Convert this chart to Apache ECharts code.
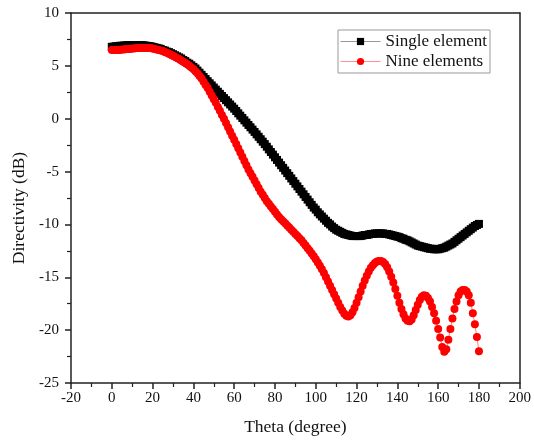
<!DOCTYPE html>
<html>
<head>
<meta charset="utf-8">
<script src="https://cdn.jsdelivr.net/npm/echarts@6/dist/echarts.min.js"></script>
<style>
  html, body { margin: 0; padding: 0; background: #fff; }
  #chart { width: 534px; height: 441px; }
</style>
</head>
<body>
<div id="chart"></div>
<script>
// theta sampling, one point per degree (0 .. 180)
var theta = []
for (var t = 0; t <= 180; t++) theta.push(t)

var seriesNames = ['Single element', 'Nine elements']

// directivity (dB)
var singleElement = [
    6.8, 6.82, 6.85, 6.87, 6.9, 6.9, 6.92, 6.93, 6.95, 6.95,
    6.95, 6.97, 6.97, 6.97, 6.95, 6.95, 6.93, 6.9, 6.88, 6.85,
    6.8, 6.75, 6.7, 6.65, 6.6, 6.5, 6.45, 6.35, 6.3, 6.2,
    6.1, 6.0, 5.9, 5.8, 5.7, 5.55, 5.45, 5.3, 5.2, 5.05,
    4.9, 4.75, 4.55, 4.35, 4.15, 3.95, 3.75, 3.55, 3.35, 3.15,
    2.95, 2.75, 2.55, 2.35, 2.15, 1.95, 1.75, 1.55, 1.35, 1.15,
    0.95, 0.73, 0.51, 0.29, 0.07, -0.15, -0.37, -0.59, -0.81, -1.03,
    -1.25, -1.48, -1.71, -1.94, -2.17, -2.4, -2.65, -2.9, -3.15, -3.4,
    -3.65, -3.9, -4.15, -4.4, -4.65, -4.9, -5.15, -5.4, -5.65, -5.9,
    -6.15, -6.4, -6.65, -6.9, -7.15, -7.4, -7.65, -7.9, -8.15, -8.4,
    -8.6, -8.85, -9.05, -9.25, -9.45, -9.65, -9.85, -10.0, -10.2, -10.35,
    -10.5, -10.6, -10.7, -10.8, -10.9, -10.95, -11.0, -11.05, -11.1, -11.1,
    -11.1, -11.1, -11.1, -11.05, -11.0, -11.0, -10.95, -10.9, -10.9, -10.85,
    -10.85, -10.85, -10.85, -10.85, -10.9, -10.9, -10.95, -11.0, -11.05, -11.1,
    -11.15, -11.2, -11.3, -11.35, -11.45, -11.5, -11.6, -11.7, -11.8, -11.9,
    -12.0, -12.05, -12.1, -12.15, -12.2, -12.25, -12.3, -12.3, -12.35, -12.35,
    -12.35, -12.3, -12.25, -12.2, -12.1, -12.0, -11.9, -11.8, -11.65, -11.5,
    -11.35, -11.2, -11.05, -10.9, -10.75, -10.6, -10.45, -10.3, -10.15, -10.05,
    -9.95
]

var nineElements = [
    6.5, 6.5, 6.5, 6.5, 6.5, 6.55, 6.55, 6.6, 6.6, 6.6,
    6.65, 6.65, 6.7, 6.7, 6.7, 6.7, 6.7, 6.7, 6.7, 6.68,
    6.65, 6.6, 6.55, 6.5, 6.45, 6.4, 6.3, 6.25, 6.15, 6.05,
    5.95, 5.85, 5.75, 5.65, 5.5, 5.4, 5.3, 5.15, 5.0, 4.85,
    4.7, 4.5, 4.3, 4.05, 3.8, 3.5, 3.2, 2.9, 2.55, 2.2,
    1.85, 1.5, 1.1, 0.75, 0.35, 0.0, -0.4, -0.8, -1.2, -1.6,
    -2.0, -2.4, -2.8, -3.2, -3.6, -4.0, -4.4, -4.8, -5.15, -5.5,
    -5.85, -6.2, -6.55, -6.9, -7.2, -7.5, -7.8, -8.05, -8.3, -8.55,
    -8.8, -9.05, -9.3, -9.5, -9.7, -9.9, -10.1, -10.3, -10.5, -10.7,
    -10.9, -11.1, -11.3, -11.5, -11.75, -12.0, -12.25, -12.5, -12.75, -13.0,
    -13.3, -13.6, -13.9, -14.25, -14.6, -15.0, -15.4, -15.8, -16.2, -16.6,
    -17.0, -17.4, -17.8, -18.15, -18.45, -18.65, -18.7, -18.6, -18.3, -17.9,
    -17.4, -16.9, -16.35, -15.8, -15.3, -14.85, -14.45, -14.1, -13.85, -13.65,
    -13.5, -13.45, -13.45, -13.55, -13.75, -14.05, -14.45, -14.95, -15.5, -16.1,
    -16.75, -17.4, -18.0, -18.5, -18.9, -19.1, -19.15, -19.0, -18.6, -18.1,
    -17.6, -17.15, -16.85, -16.7, -16.75, -16.95, -17.3, -17.8, -18.4, -19.1,
    -19.9, -20.7, -21.6, -22.05, -21.8, -20.9, -19.9, -18.9, -18.0, -17.3,
    -16.7, -16.35, -16.2, -16.2, -16.35, -16.7, -17.4, -18.4, -19.45, -20.65,
    -22.0
]

var xTicks = { min: -20, max: 200, interval: 20 }
var yTicks = { min: -25, max: 10, interval: 5 }

function pairs(ys) {
    var out = []
    for (var i = 0; i < ys.length; i++) out.push([theta[i], ys[i]])
    return out
}

var serif = 'Liberation Serif'

function initChart() {
    var myChart = echarts.init(document.getElementById('chart'), null, { renderer: 'canvas' })
    var axisLine = { show: true, onZero: false, lineStyle: { color: '#222', width: 1.5 } }
    var option = {
        animation: false,
        backgroundColor: '#fff',
        grid: { left: 71, right: 8, top: 13, bottom: 58 },
        legend: {
            orient: 'vertical',
            left: 338,
            top: 30,
            padding: [3, 3, 3, 2],
            itemGap: 3,
            itemWidth: 40,
            itemHeight: 9,
            borderColor: '#999',
            borderWidth: 1,
            textStyle: { fontFamily: serif, fontSize: 17, color: '#111' },
            data: [
                { name: seriesNames[0], lineStyle: { color: '#999', width: 1 } },
                { name: seriesNames[1], lineStyle: { color: '#ff9090', width: 1 } }
            ]
        },
        xAxis: [{
            type: 'value',
            min: xTicks.min,
            max: xTicks.max,
            interval: xTicks.interval,
            name: 'Theta (degree)',
            nameLocation: 'middle',
            nameGap: 35,
            nameTextStyle: { fontFamily: serif, fontSize: 17.5, color: '#111' },
            axisLine: axisLine,
            axisTick: { show: true, length: 6, lineStyle: { color: '#222', width: 1.5 } },
            minorTick: { show: true, splitNumber: 2, length: 4, lineStyle: { color: '#222', width: 1.2 } },
            axisLabel: { margin: 8, fontFamily: serif, fontSize: 15, color: '#111' },
            splitLine: { show: false }
        }, {
            type: 'value',
            position: 'top',
            min: xTicks.min,
            max: xTicks.max,
            axisLine: axisLine,
            axisTick: { show: false },
            axisLabel: { show: false },
            splitLine: { show: false }
        }],
        yAxis: [{
            type: 'value',
            min: yTicks.min,
            max: yTicks.max,
            interval: yTicks.interval,
            name: 'Directivity (dB)',
            nameLocation: 'middle',
            nameGap: 37,
            nameTextStyle: { fontFamily: serif, fontSize: 17.5, color: '#111', padding: [0, 20, 0, 0] },
            axisLine: axisLine,
            axisTick: { show: true, length: 6, lineStyle: { color: '#222', width: 1.5 } },
            minorTick: { show: true, splitNumber: 2, length: 4, lineStyle: { color: '#222', width: 1.2 } },
            axisLabel: { margin: 12, fontFamily: serif, fontSize: 15, color: '#111' },
            splitLine: { show: false }
        }, {
            type: 'value',
            position: 'right',
            min: yTicks.min,
            max: yTicks.max,
            axisLine: axisLine,
            axisTick: { show: false },
            axisLabel: { show: false },
            splitLine: { show: false }
        }],
        series: [{
            name: seriesNames[0],
            type: 'line',
            symbol: 'rect',
            symbolSize: 8,
            showAllSymbol: true,
            lineStyle: { color: '#888', width: 1 },
            itemStyle: { color: '#000' },
            data: pairs(singleElement)
        }, {
            name: seriesNames[1],
            type: 'line',
            symbol: 'circle',
            symbolSize: 8,
            showAllSymbol: true,
            lineStyle: { color: '#ff8080', width: 1 },
            itemStyle: { color: '#ff0000' },
            data: pairs(nineElements)
        }]
    }
    myChart.setOption(option)
}

initChart()
</script>
</body>
</html>
